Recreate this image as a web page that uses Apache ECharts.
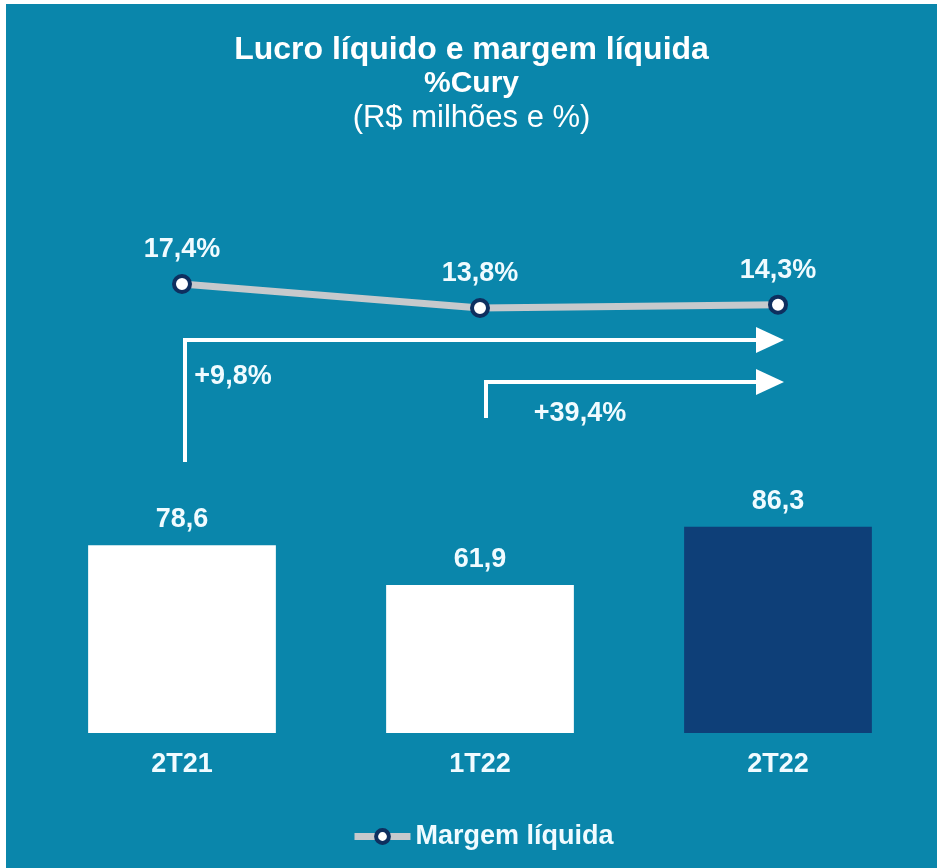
<!DOCTYPE html>
<html>
<head>
<meta charset="utf-8">
<title>Lucro líquido e margem líquida</title>
<script src="https://cdn.jsdelivr.net/npm/echarts@6/dist/echarts.min.js"></script>
<style>
  html, body { margin: 0; padding: 0; background: #ffffff; }
  #chart { position: absolute; left: 6px; top: 4px; width: 931px; height: 864px; }
</style>
</head>
<body>
<div id="chart"></div>
<script>
// Data
const categories = ['2T21', '1T22', '2T22'];
const lucroLiquido = [78.6, 61.9, 86.3];
const margemLiquida = [17.4, 13.8, 14.3];
const growthLabels = ['+9,8%', '+39,4%'];

// Colors
const bgColor = '#0a86ab';
const barColors = ['#ffffff', '#ffffff', '#0e3f78'];
const labelColor = '#f0fbff';
const lineColor = '#c6c9cc';
const markerBorder = '#0e2f5f';
const fontFamily = 'Arial, "Liberation Sans", sans-serif';

const fmt = (v) => v.toFixed(1).replace('.', ',');

const chart = echarts.init(document.getElementById('chart'));

const option = {
  backgroundColor: bgColor,
  animation: false,
  title: {
    left: 'center',
    top: 24,
    text: '{a|Lucro líquido e margem líquida}\n{b|%Cury}\n{n|(R$ milhões e %)}',
    textStyle: {
      rich: {
        a: { color: '#ffffff', fontSize: 32, fontWeight: 'bold', fontFamily: fontFamily, lineHeight: 34 },
        b: { color: '#ffffff', fontSize: 30, fontWeight: 'bold', fontFamily: fontFamily, lineHeight: 34 },
        n: { color: '#ffffff', fontSize: 31, fontWeight: 'normal', fontFamily: fontFamily, lineHeight: 34 }
      }
    }
  },
  legend: {
    data: ['Margem líquida'],
    left: 340,
    top: 814,
    itemWidth: 56,
    itemHeight: 16,
    itemGap: 4,
    lineStyle: { width: 7, color: lineColor },
    itemStyle: { color: '#ffffff', borderColor: markerBorder, borderWidth: 4 },
    textStyle: { color: labelColor, fontSize: 27, fontWeight: 'bold', fontFamily: fontFamily }
  },
  grid: [
    // bars
    { left: 27, right: 10, top: 490, bottom: 135 },
    // margin line
    { left: 27, right: 10, top: 196, bottom: 468 }
  ],
  xAxis: [
    {
      type: 'category',
      gridIndex: 0,
      data: categories,
      axisLine: { show: false },
      axisTick: { show: false },
      axisLabel: { margin: 18, color: labelColor, fontSize: 27, fontWeight: 'bold', fontFamily: fontFamily }
    },
    { type: 'category', gridIndex: 1, data: categories, show: false }
  ],
  yAxis: [
    { type: 'value', gridIndex: 0, min: 0, max: 100, show: false },
    { type: 'value', gridIndex: 1, min: 0, max: 30, show: false }
  ],
  series: [
    {
      name: 'Lucro líquido',
      type: 'bar',
      xAxisIndex: 0,
      yAxisIndex: 0,
      barWidth: '63%',
      data: lucroLiquido.map((v, i) => ({ value: v, itemStyle: { color: barColors[i] } })),
      label: {
        show: true,
        position: 'top',
        distance: 12,
        formatter: (p) => fmt(p.value),
        color: labelColor,
        fontSize: 27,
        fontWeight: 'bold',
        fontFamily: fontFamily
      }
    },
    {
      name: 'Margem líquida',
      type: 'line',
      xAxisIndex: 1,
      yAxisIndex: 1,
      data: margemLiquida,
      symbol: 'circle',
      symbolSize: 16,
      lineStyle: { color: lineColor, width: 7 },
      itemStyle: { color: '#ffffff', borderColor: markerBorder, borderWidth: 4 },
      label: {
        show: true,
        position: 'top',
        distance: 11,
        formatter: (p) => fmt(p.value) + '%',
        color: labelColor,
        fontSize: 27,
        fontWeight: 'bold',
        fontFamily: fontFamily
      }
    }
  ]
};

chart.setOption(option);

// Growth arrows, anchored to the category positions
const cx = categories.map((c) => chart.convertToPixel({ xAxisIndex: 0 }, c));

const arrow = (x0, yBottom, yLine, xEnd) => [
  {
    type: 'polyline',
    shape: { points: [[x0, yBottom], [x0, yLine], [xEnd - 26, yLine]] },
    style: { stroke: '#ffffff', lineWidth: 4, fill: null }
  },
  {
    type: 'polygon',
    shape: { points: [[xEnd - 28, yLine - 13], [xEnd, yLine], [xEnd - 28, yLine + 13]] },
    style: { fill: '#ffffff' }
  }
];

const arrowText = (x, y, text) => ({
  type: 'text',
  x: x,
  y: y,
  style: {
    text: text,
    fill: labelColor,
    font: 'bold 27px ' + fontFamily,
    align: 'center',
    verticalAlign: 'middle'
  }
});

chart.setOption({
  graphic: [
    ...arrow(cx[0] + 3, 458, 336, cx[2] + 6),
    ...arrow(cx[1] + 6, 414, 378, cx[2] + 6),
    arrowText(cx[0] + 51, 373, growthLabels[0]),
    arrowText(cx[1] + 100, 410, growthLabels[1])
  ]
});
</script>
</body>
</html>
